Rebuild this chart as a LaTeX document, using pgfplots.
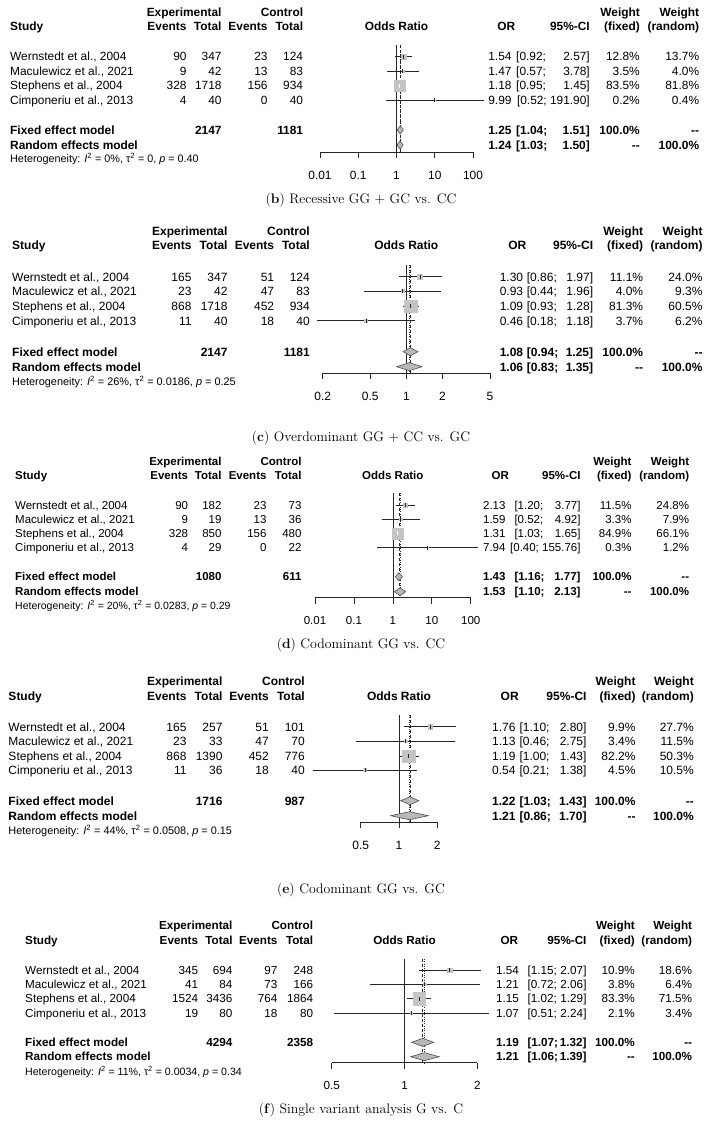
\documentclass[border=0pt]{standalone}
\usepackage{pgfplots}
\pgfplotsset{compat=1.18}
\usepackage{fontspec}
\newfontfamily\arial{Liberation Sans}
\definecolor{sqgray}{RGB}{196,196,196}
\definecolor{diagray}{RGB}{185,185,185}
\definecolor{diaedge}{RGB}{70,70,70}

\def\psize{11.9}\def\pth{8.52}\def\phs{10.8}
\tikzset{
  tx/.style={font=\arial\fontsize{\psize}{\psize}\selectfont, inner sep=0pt, text height=\pth pt, text depth=0pt},
  bt/.style={font=\arial\bfseries\fontsize{\psize}{\psize}\selectfont, inner sep=0pt, text height=\pth pt, text depth=0pt},
  hx/.style={font=\arial\fontsize{\phs}{\phs}\selectfont, inner sep=0pt},
  myvl/.style={black!85, line width=0.65pt},
  myfl/.style={black!85, line width=0.65pt, dash pattern=on 3pt off 2pt},
  myrl/.style={black!85, line width=0.65pt, dash pattern=on 1pt off 1.3pt},
}
\pgfplotsset{
  every axis/.append style={
    scale only axis, anchor=south west,
    axis x line*=bottom, axis y line=none,
    xminorticks=false, tick align=outside, major tick length=6pt,
    clip=false, enlargelimits=false,
    axis line style={line width=0.65pt, black!85},
    xtick style={line width=0.65pt, black!85},
    xticklabel style={font=\arial\fontsize{\psize}{\psize}\selectfont, inner sep=0pt, text height=\pth pt, text depth=0pt, anchor=north, yshift=-12.5pt},
  },
}
% study row in the plot: y, OR, lo, hi, half-size of square, line colour
\newcommand\sq[6]{%
  \addplot[only marks, mark=square*, mark size=#5pt, mark options={draw=sqgray, fill=sqgray}] coordinates {(#2,#1)};
  \addplot[line width=0.8pt, #6] coordinates {(#3,#1) (#4,#1)};
  \addplot[only marks, mark=|, mark size=2pt, mark options={#6, line width=0.9pt}] coordinates {(#2,#1)};
}
% diamond: y, ytop, ybot, OR, lo, hi
\newcommand\dia[6]{%
  \addplot[fill=diagray, draw=diaedge, line width=0.55pt] coordinates {(#5,#1) (#4,#2) (#6,#1) (#4,#3)} -- cycle;
}
\newcommand\setcols[5]{\def\cS{#1}\def\cA{#2}\def\cB{#3}\def\cC{#4}\def\cD{#5}}
\newcommand\setrcols[6]{\def\cOR{#1}\def\cORh{#2}\def\cL{#3}\def\cU{#4}\def\cF{#5}\def\cW{#6}}
\newcommand\lhead[2]{%
  \node[bt,anchor=east] at (\cB,-#1) {Experimental};
  \node[bt,anchor=east] at (\cD,-#1) {Control};
  \node[bt,anchor=west] at (\cS,-#2) {Study};
  \node[bt,anchor=east] at (\cA,-#2) {Events};
  \node[bt,anchor=east] at (\cB,-#2) {Total};
  \node[bt,anchor=east] at (\cC,-#2) {Events};
  \node[bt,anchor=east] at (\cD,-#2) {Total};}
\newcommand\rhead[3]{%
  \node[bt] at (#3,-#2) {Odds Ratio};
  \node[bt] at (\cORh,-#2) {OR};
  \node[bt,anchor=east] at (\cU,-#2) {95\%-CI};
  \node[bt,anchor=east] at (\cF,-#1) {Weight};
  \node[bt,anchor=east] at (\cW,-#1) {Weight};
  \node[bt,anchor=east] at (\cF,-#2) {(fixed)};
  \node[bt,anchor=east] at (\cW,-#2) {(random)};}
\newcommand\lrow[6]{%
  \node[tx,anchor=west] at (\cS,-#1) {#2};
  \node[tx,anchor=east] at (\cA,-#1) {#3};
  \node[tx,anchor=east] at (\cB,-#1) {#4};
  \node[tx,anchor=east] at (\cC,-#1) {#5};
  \node[tx,anchor=east] at (\cD,-#1) {#6};}
\newcommand\rrow[6]{%
  \node[tx,anchor=east] at (\cOR,-#1) {#2};
  \node[tx,anchor=west] at (\cL,-#1) {[#3;};
  \node[tx,anchor=east] at (\cU,-#1) {#4]};
  \node[tx,anchor=east] at (\cF,-#1) {#5\%};
  \node[tx,anchor=east] at (\cW,-#1) {#6\%};}
\newcommand\rrowW[5]{%
  \node[tx,anchor=east] at (\cOR,-#1) {#2};
  \node[tx,anchor=east] at (\cU,-#1) {#3};
  \node[tx,anchor=east] at (\cF,-#1) {#4\%};
  \node[tx,anchor=east] at (\cW,-#1) {#5\%};}
\newcommand\fixrow[6]{%
  \node[bt,anchor=west] at (\cS,-#1) {Fixed effect model};
  \node[bt,anchor=east] at (\cB,-#1) {#2};
  \node[bt,anchor=east] at (\cD,-#1) {#3};
  \node[bt,anchor=east] at (\cOR,-#1) {#4};
  \node[bt,anchor=west] at (\cL,-#1) {[#5;};
  \node[bt,anchor=east] at (\cU,-#1) {#6]};
  \node[bt,anchor=east] at (\cF,-#1) {100.0\%};
  \node[bt,anchor=east] at (\cW,-#1) {{-}{-}};}
\newcommand\ranrow[4]{%
  \node[bt,anchor=west] at (\cS,-#1) {Random effects model};
  \node[bt,anchor=east] at (\cOR,-#1) {#2};
  \node[bt,anchor=west] at (\cL,-#1) {[#3;};
  \node[bt,anchor=east] at (\cU,-#1) {#4]};
  \node[bt,anchor=east] at (\cF,-#1) {{-}{-}};
  \node[bt,anchor=east] at (\cW,-#1) {100.0\%};}
\newcommand\het[4]{%
  \node[hx,anchor=base west] at (\cS,-#1-3.8) {Heterogeneity: \textit{I}\textsuperscript{2} = #2\%, τ\textsuperscript{2} = #3, \textit{p} = #4};}
\newcommand\capt[3]{%
  \node[font=\rmfamily\fontsize{13.8}{16}\selectfont, inner sep=0pt, anchor=base] at (361,-#1-4.7) {(\textbf{#2}) #3};}

\begin{document}
\begin{tikzpicture}[x=1pt,y=1pt]
\useasboundingbox (0,0) rectangle (711,-1122);

% ================= panel b =================
\def\psize{11.9}\def\pth{8.52}\def\phs{10.8}
\setcols{10}{186.7}{221.7}{267.7}{303.3}
\setrcols{511.7}{506.3}{516}{590}{640}{699.3}
\lhead{12.7}{26.7}
\rhead{12.7}{26.7}{396.5}
\lrow{56.7}{Wernstedt et al., 2004}{90}{347}{23}{124}
\lrow{71}{Maculewicz et al., 2021}{9}{42}{13}{83}
\lrow{85.7}{Stephens et al., 2004}{328}{1718}{156}{934}
\lrow{100}{Cimponeriu et al., 2013}{4}{40}{0}{40}
\rrow{56.7}{1.54}{0.92}{2.57}{12.8}{13.7}
\rrow{71}{1.47}{0.57}{3.78}{3.5}{4.0}
\rrow{85.7}{1.18}{0.95}{1.45}{83.5}{81.8}
\rrowW{100}{9.99}{[0.52; 191.90]}{0.2}{0.4}
\fixrow{130}{2147}{1181}{1.25}{1.04}{1.51}
\ranrow{145}{1.24}{1.03}{1.50}
\het{159}{0}{0}{0.40}
\begin{axis}[xmode=log, at={(320pt,-152pt)}, width=153pt, height=107pt,
  xmin=0.01, xmax=100, ymin=-152, ymax=-45,
  xtick={0.01,0.1,1,10,100}, xticklabels={0.01,0.1,1,10,100}]
\addplot[myvl] coordinates {(1,-45) (1,-152)};
\addplot[myfl] coordinates {(1.25,-45) (1.25,-152)};
\addplot[myrl] coordinates {(1.24,-45) (1.24,-152)};
\sq{-56.7}{1.54}{0.92}{2.57}{2.15}{black!85}
\sq{-71}{1.47}{0.57}{3.78}{1.13}{black!85}
\sq{-85.7}{1.18}{0.95}{1.45}{5.5}{white}
\sq{-100}{9.99}{0.52}{191.90}{0.27}{black!85}
\dia{-130}{-126}{-134}{1.25}{1.04}{1.51}
\dia{-145}{-141}{-149}{1.24}{1.03}{1.50}
\end{axis}
\capt{198.5}{b}{Recessive GG + GC vs. CC}

% ================= panel c =================
\def\psize{12.0}\def\pth{8.59}\def\phs{10.9}
\setcols{12}{191.7}{227.7}{274.3}{310}
\setrcols{523.3}{517.3}{526.7}{593.3}{643.3}{702.7}
\lhead{231.7}{245.7}
\rhead{231.7}{245.7}{406.3}
\lrow{276.7}{Wernstedt et al., 2004}{165}{347}{51}{124}
\lrow{291}{Maculewicz et al., 2021}{23}{42}{47}{83}
\lrow{306}{Stephens et al., 2004}{868}{1718}{452}{934}
\lrow{320.7}{Cimponeriu et al., 2013}{11}{40}{18}{40}
\rrow{276.7}{1.30}{0.86}{1.97}{11.1}{24.0}
\rrow{291}{0.93}{0.44}{1.96}{4.0}{9.3}
\rrow{306}{1.09}{0.93}{1.28}{81.3}{60.5}
\rrow{320.7}{0.46}{0.18}{1.18}{3.7}{6.2}
\fixrow{351.7}{2147}{1181}{1.08}{0.94}{1.25}
\ranrow{366.7}{1.06}{0.83}{1.35}
\het{381.7}{26}{0.0186}{0.25}
\begin{axis}[xmode=log, at={(322.7pt,-373.3pt)}, width=167.3pt, height=108.3pt,
  xmin=0.2, xmax=5, ymin=-373.3, ymax=-265,
  xtick={0.2,0.5,1,2,5}, xticklabels={0.2,0.5,1,2,5}]
\addplot[myvl] coordinates {(1,-265) (1,-373.3)};
\addplot[myfl] coordinates {(1.08,-265) (1.08,-373.3)};
\addplot[myrl] coordinates {(1.06,-265) (1.06,-373.3)};
\sq{-276.7}{1.30}{0.86}{1.97}{2.33}{black!85}
\sq{-291}{0.93}{0.44}{1.96}{1.4}{black!85}
\sq{-306}{1.09}{0.93}{1.28}{6.3}{black!85}
\sq{-320.7}{0.46}{0.18}{1.18}{1.34}{black!85}
\dia{-351.7}{-347.7}{-355.7}{1.08}{0.94}{1.25}
\dia{-366.7}{-362.7}{-370.7}{1.06}{0.83}{1.35}
\end{axis}
\capt{437}{c}{Overdominant GG + CC vs. GC}

% ================= panel d =================
\def\psize{11.5}\def\pth{8.23}\def\phs{10.5}
\setcols{15}{188.3}{221.7}{266.7}{301.7}
\setrcols{505.7}{500.3}{514.3}{580.7}{631.7}{689.3}
\lhead{461}{475.7}
\rhead{461}{475.7}{392.8}
\lrow{505}{Wernstedt et al., 2004}{90}{182}{23}{73}
\lrow{519}{Maculewicz et al., 2021}{9}{19}{13}{36}
\lrow{533.3}{Stephens et al., 2004}{328}{850}{156}{480}
\lrow{547.7}{Cimponeriu et al., 2013}{4}{29}{0}{22}
\rrow{505}{2.13}{1.20}{3.77}{11.5}{24.8}
\rrow{519}{1.59}{0.52}{4.92}{3.3}{7.9}
\rrow{533.3}{1.31}{1.03}{1.65}{84.9}{66.1}
\rrowW{547.7}{7.94}{[0.40; 155.76]}{0.3}{1.2}
\fixrow{576.7}{1080}{611}{1.43}{1.16}{1.77}
\ranrow{591.7}{1.53}{1.10}{2.13}
\het{606}{20}{0.0283}{0.29}
\begin{axis}[xmode=log, at={(315pt,-597.7pt)}, width=155.7pt, height=104.7pt,
  xmin=0.01, xmax=100, ymin=-597.7, ymax=-493,
  xtick={0.01,0.1,1,10,100}, xticklabels={0.01,0.1,1,10,100}]
\addplot[myvl] coordinates {(1,-493) (1,-597.7)};
\addplot[myfl] coordinates {(1.43,-493) (1.43,-597.7)};
\addplot[myrl] coordinates {(1.53,-493) (1.53,-597.7)};
\sq{-505}{2.13}{1.20}{3.77}{2.0}{black!85}
\sq{-519}{1.59}{0.52}{4.92}{1.1}{black!85}
\sq{-533.3}{1.31}{1.03}{1.65}{5.5}{white}
\sq{-547.7}{7.94}{0.40}{155.76}{0.33}{black!85}
\dia{-576.7}{-572.7}{-580.7}{1.43}{1.16}{1.77}
\dia{-591.7}{-587.7}{-595.7}{1.53}{1.10}{2.13}
\end{axis}
\capt{644}{d}{Codominant GG vs. CC}

% ================= panel e =================
\def\psize{12.0}\def\pth{8.59}\def\phs{10.9}
\setcols{8.3}{186.7}{222.7}{269}{305}
\setrcols{515.7}{509.7}{519.3}{586.7}{635.7}{694}
\lhead{681}{695.7}
\rhead{681}{695.7}{399}
\lrow{726.7}{Wernstedt et al., 2004}{165}{257}{51}{101}
\lrow{741}{Maculewicz et al., 2021}{23}{33}{47}{70}
\lrow{756}{Stephens et al., 2004}{868}{1390}{452}{776}
\lrow{770}{Cimponeriu et al., 2013}{11}{36}{18}{40}
\rrow{726.7}{1.76}{1.10}{2.80}{9.9}{27.7}
\rrow{741}{1.13}{0.46}{2.75}{3.4}{11.5}
\rrow{756}{1.19}{1.00}{1.43}{82.2}{50.3}
\rrow{770}{0.54}{0.21}{1.38}{4.5}{10.5}
\fixrow{800.7}{1716}{987}{1.22}{1.03}{1.43}
\ranrow{815.7}{1.21}{0.86}{1.70}
\het{830.7}{44}{0.0508}{0.15}
\begin{axis}[xmode=log, at={(360.7pt,-822pt)}, width=76.6pt, height=107pt,
  xmin=0.5, xmax=2, ymin=-822, ymax=-715,
  xtick={0.5,1,2}, xticklabels={0.5,1,2}]
\addplot[myvl] coordinates {(1,-715) (1,-822)};
\addplot[myfl] coordinates {(1.22,-715) (1.22,-822)};
\addplot[myrl] coordinates {(1.21,-715) (1.21,-822)};
\sq{-726.7}{1.76}{1.10}{2.80}{2.19}{black!85}
\sq{-741}{1.13}{0.46}{2.75}{1.28}{black!85}
\sq{-756}{1.19}{1.00}{1.43}{6.3}{black!85}
\sq{-770}{0.54}{0.21}{1.38}{1.47}{black!85}
\dia{-800.7}{-796.7}{-804.7}{1.22}{1.03}{1.43}
\dia{-815.7}{-811.7}{-819.7}{1.21}{0.86}{1.70}
\end{axis}
\capt{889}{e}{Codominant GG vs. GC}

% ================= panel f =================
\def\psize{11.7}\def\pth{8.38}\def\phs{10.6}
\setcols{25}{198.3}{232.7}{277.7}{313.3}
\setrcols{519}{509.3}{527.3}{586.7}{635}{692.3}
\lhead{925.7}{940}
\rhead{925.7}{940}{404.5}
\lrow{970}{Wernstedt et al., 2004}{345}{694}{97}{248}
\lrow{984.3}{Maculewicz et al., 2021}{41}{84}{73}{166}
\lrow{998.7}{Stephens et al., 2004}{1524}{3436}{764}{1864}
\lrow{1013.3}{Cimponeriu et al., 2013}{19}{80}{18}{80}
\rrow{970}{1.54}{1.15}{2.07}{10.9}{18.6}
\rrow{984.3}{1.21}{0.72}{2.06}{3.8}{6.4}
\rrow{998.7}{1.15}{1.02}{1.29}{83.3}{71.5}
\rrow{1013.3}{1.07}{0.51}{2.24}{2.1}{3.4}
\fixrow{1042.3}{4294}{2358}{1.19}{1.07}{1.32}
\ranrow{1056.7}{1.21}{1.06}{1.39}
\het{1071.7}{11}{0.0034}{0.34}
\begin{axis}[xmode=log, at={(331.7pt,-1062.7pt)}, width=145.6pt, height=103.7pt,
  xmin=0.5, xmax=2, ymin=-1062.7, ymax=-959,
  xtick={0.5,1,2}, xticklabels={0.5,1,2}]
\addplot[myvl] coordinates {(1,-959) (1,-1062.7)};
\addplot[myfl] coordinates {(1.19,-959) (1.19,-1062.7)};
\addplot[myrl] coordinates {(1.21,-959) (1.21,-1062.7)};
\sq{-970}{1.54}{1.15}{2.07}{2.28}{black!85}
\sq{-984.3}{1.21}{0.72}{2.06}{1.35}{black!85}
\sq{-998.7}{1.15}{1.02}{1.29}{6.3}{black!85}
\sq{-1013.3}{1.07}{0.51}{2.24}{1.0}{black!85}
\dia{-1042.3}{-1038.3}{-1046.3}{1.19}{1.07}{1.32}
\dia{-1056.7}{-1052.7}{-1060.7}{1.21}{1.06}{1.39}
\end{axis}
\capt{1109}{f}{Single variant analysis G vs. C}
\end{tikzpicture}
\end{document}
